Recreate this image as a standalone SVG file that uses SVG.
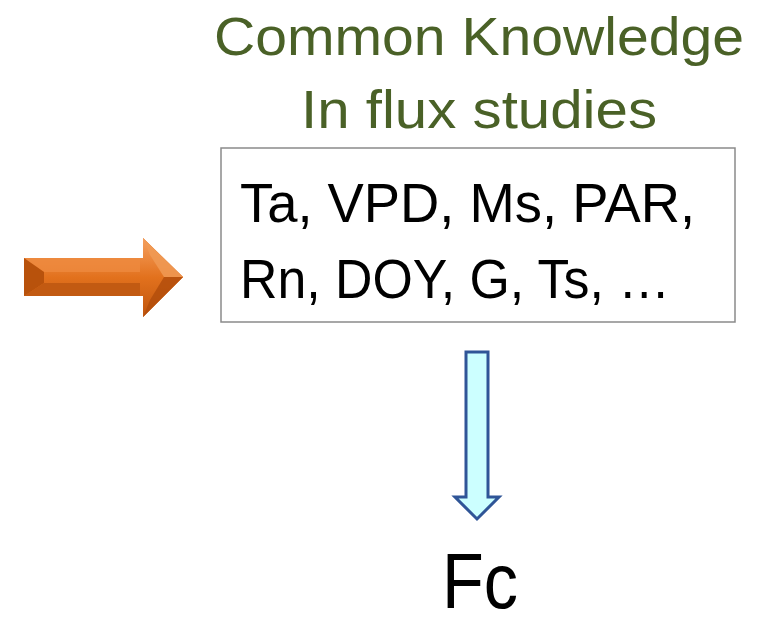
<svg xmlns="http://www.w3.org/2000/svg" width="779" height="625" viewBox="0 0 779 625">
<style>
.t{font-family:"Liberation Sans",Arial,sans-serif;}
.title{fill:#4A6127;font-size:54px;}
.body{fill:#000;font-size:55px;}
</style>
<defs>
<linearGradient id="og" x1="0" y1="0" x2="0" y2="1">
<stop offset="0" stop-color="#F5A060"/>
<stop offset="0.5" stop-color="#E2711D"/>
<stop offset="1" stop-color="#C0560E"/>
</linearGradient>
</defs>
<rect width="779" height="625" fill="#fff"/>
<g id="title">
<text class="t title" x="479" y="55" text-anchor="middle" textLength="530" lengthAdjust="spacingAndGlyphs">Common Knowledge</text>
<text class="t title" x="479" y="128" text-anchor="middle" textLength="356" lengthAdjust="spacingAndGlyphs">In flux studies</text>
</g>
<g id="inputs">
<rect x="221" y="148" width="514" height="174" fill="#fff" stroke="#8A8A8A" stroke-width="1.5"/>
<text class="t body" x="240" y="222" textLength="455" lengthAdjust="spacingAndGlyphs">Ta, VPD, Ms, PAR,</text>
<text class="t body" x="240" y="298" textLength="430" lengthAdjust="spacingAndGlyphs">Rn, DOY, G, Ts, …</text>
</g>
<g id="output">
<text class="t" x="480" y="608" text-anchor="middle" font-size="78" fill="#000" textLength="76" lengthAdjust="spacingAndGlyphs">Fc</text>
</g>
<g id="connectors">
<g id="orange-arrow">
<polygon points="24,258 143,258 143,238 183,277 143,317 143,296 24,296" fill="#D9651A"/>
<polygon points="24,258 143,258 143,238 183,277 143,317 143,296 24,296" fill="url(#og)"/>
<polygon points="24,258 44,272 140,272 140,258" fill="#EE8A3E" opacity="0.8"/>
<polygon points="24,258 44,272 44,283 24,296" fill="#B8520C"/>
<polygon points="24,296 44,283 140,283 140,296" fill="#C25A12"/>
<polygon points="143,238 183,277 164,277 150,255" fill="#F09A55" opacity="0.85"/>
<polygon points="143,317 183,277 164,277 150,300" fill="#B34E0C" opacity="0.85"/>
</g>
<polygon id="blue-arrow" points="466,352 488,352 488,497 499,497 477,519 455,497 466,497" fill="#CCFFFF" stroke="#2F5597" stroke-width="3" stroke-linejoin="miter"/>
</g>
</svg>
